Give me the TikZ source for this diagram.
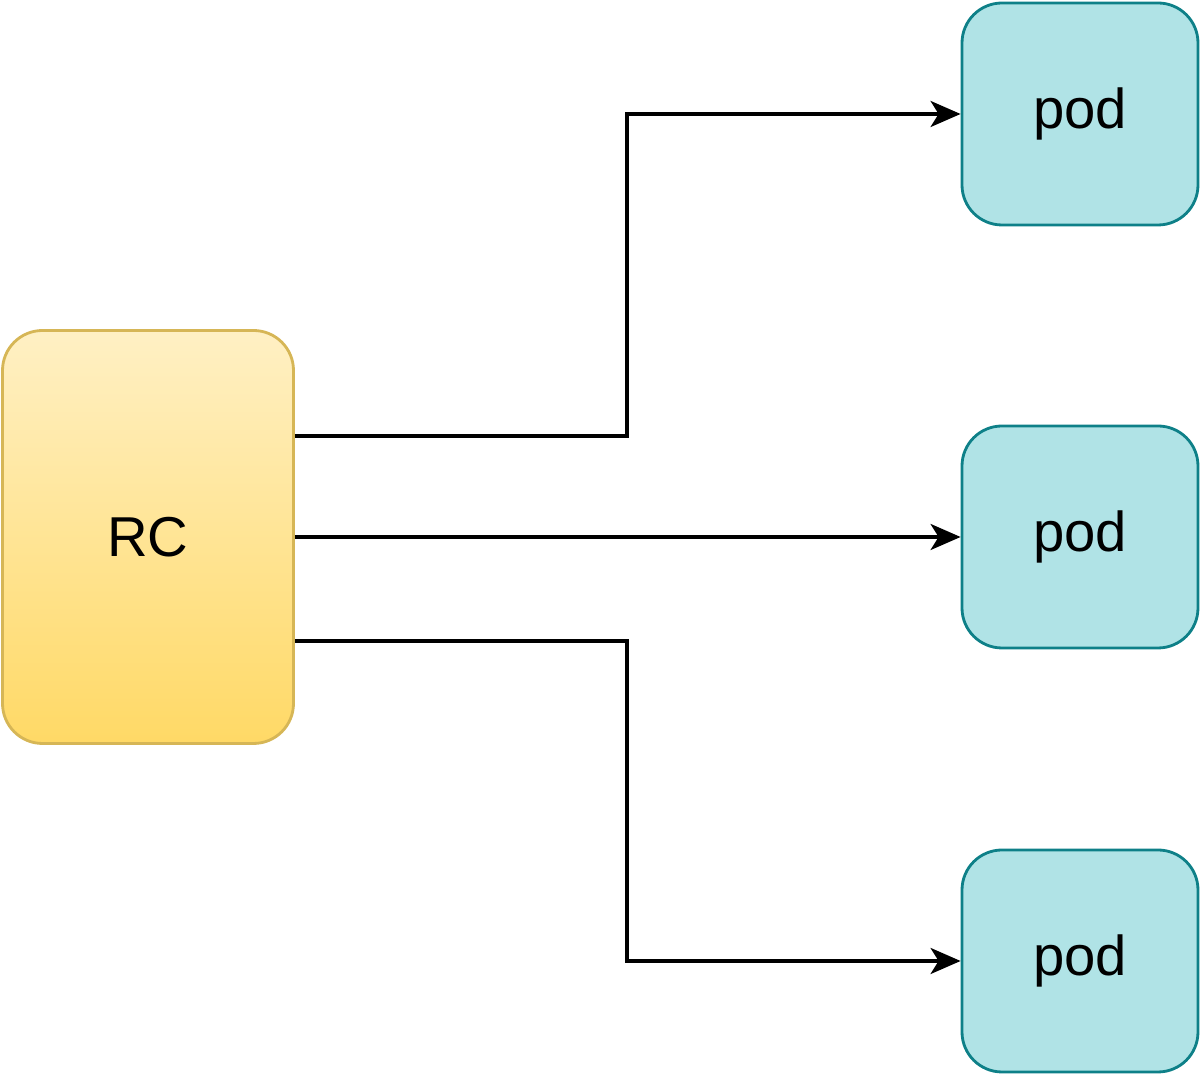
\documentclass[tikz,border=0pt]{standalone}
\usepackage{fontspec}
\setmainfont{Liberation Sans}
\usetikzlibrary{shapes,arrows.meta,positioning}
\definecolor{rcdraw}{HTML}{D6B656}
\definecolor{rctop}{HTML}{FFF0C4}
\definecolor{rcbot}{HTML}{FFD966}
\definecolor{podfill}{HTML}{B0E3E6}
\definecolor{poddraw}{HTML}{0E8088}
\begin{document}
\begin{tikzpicture}[rcbox/.style={rectangle,rounded corners=0.4cm,draw=rcdraw,line width=0.8pt,top color=rctop,bottom color=rcbot,minimum width=2.91cm,minimum height=4.13cm,font=\fontsize{16}{18}\selectfont},
podbox/.style={rectangle,rounded corners=0.4cm,draw=poddraw,fill=podfill,line width=0.8pt,minimum width=2.36cm,minimum height=2.22cm,font=\fontsize{16}{18}\selectfont},
link/.style={line width=1pt,-{Stealth[length=0.3cm,width=0.26cm,inset=0.08cm]}}]
\useasboundingbox (0,0) rectangle (12,10.74);

\node[rcbox] (rc) at (1.48,5.37) {RC};

\node[podbox] (pod1) at (10.8,9.6) {pod};
\node[podbox] (pod2) at (10.8,5.37) {pod};
\node[podbox] (pod3) at (10.8,1.13) {pod};

\draw[link] ([yshift=1.01cm]rc.east) -- ++(3.32,0) |- (pod1.west);
\draw[link] (rc.east) -- (pod2.west);
\draw[link] ([yshift=-1.04cm]rc.east) -- ++(3.32,0) |- (pod3.west);

\end{tikzpicture}
\end{document}
